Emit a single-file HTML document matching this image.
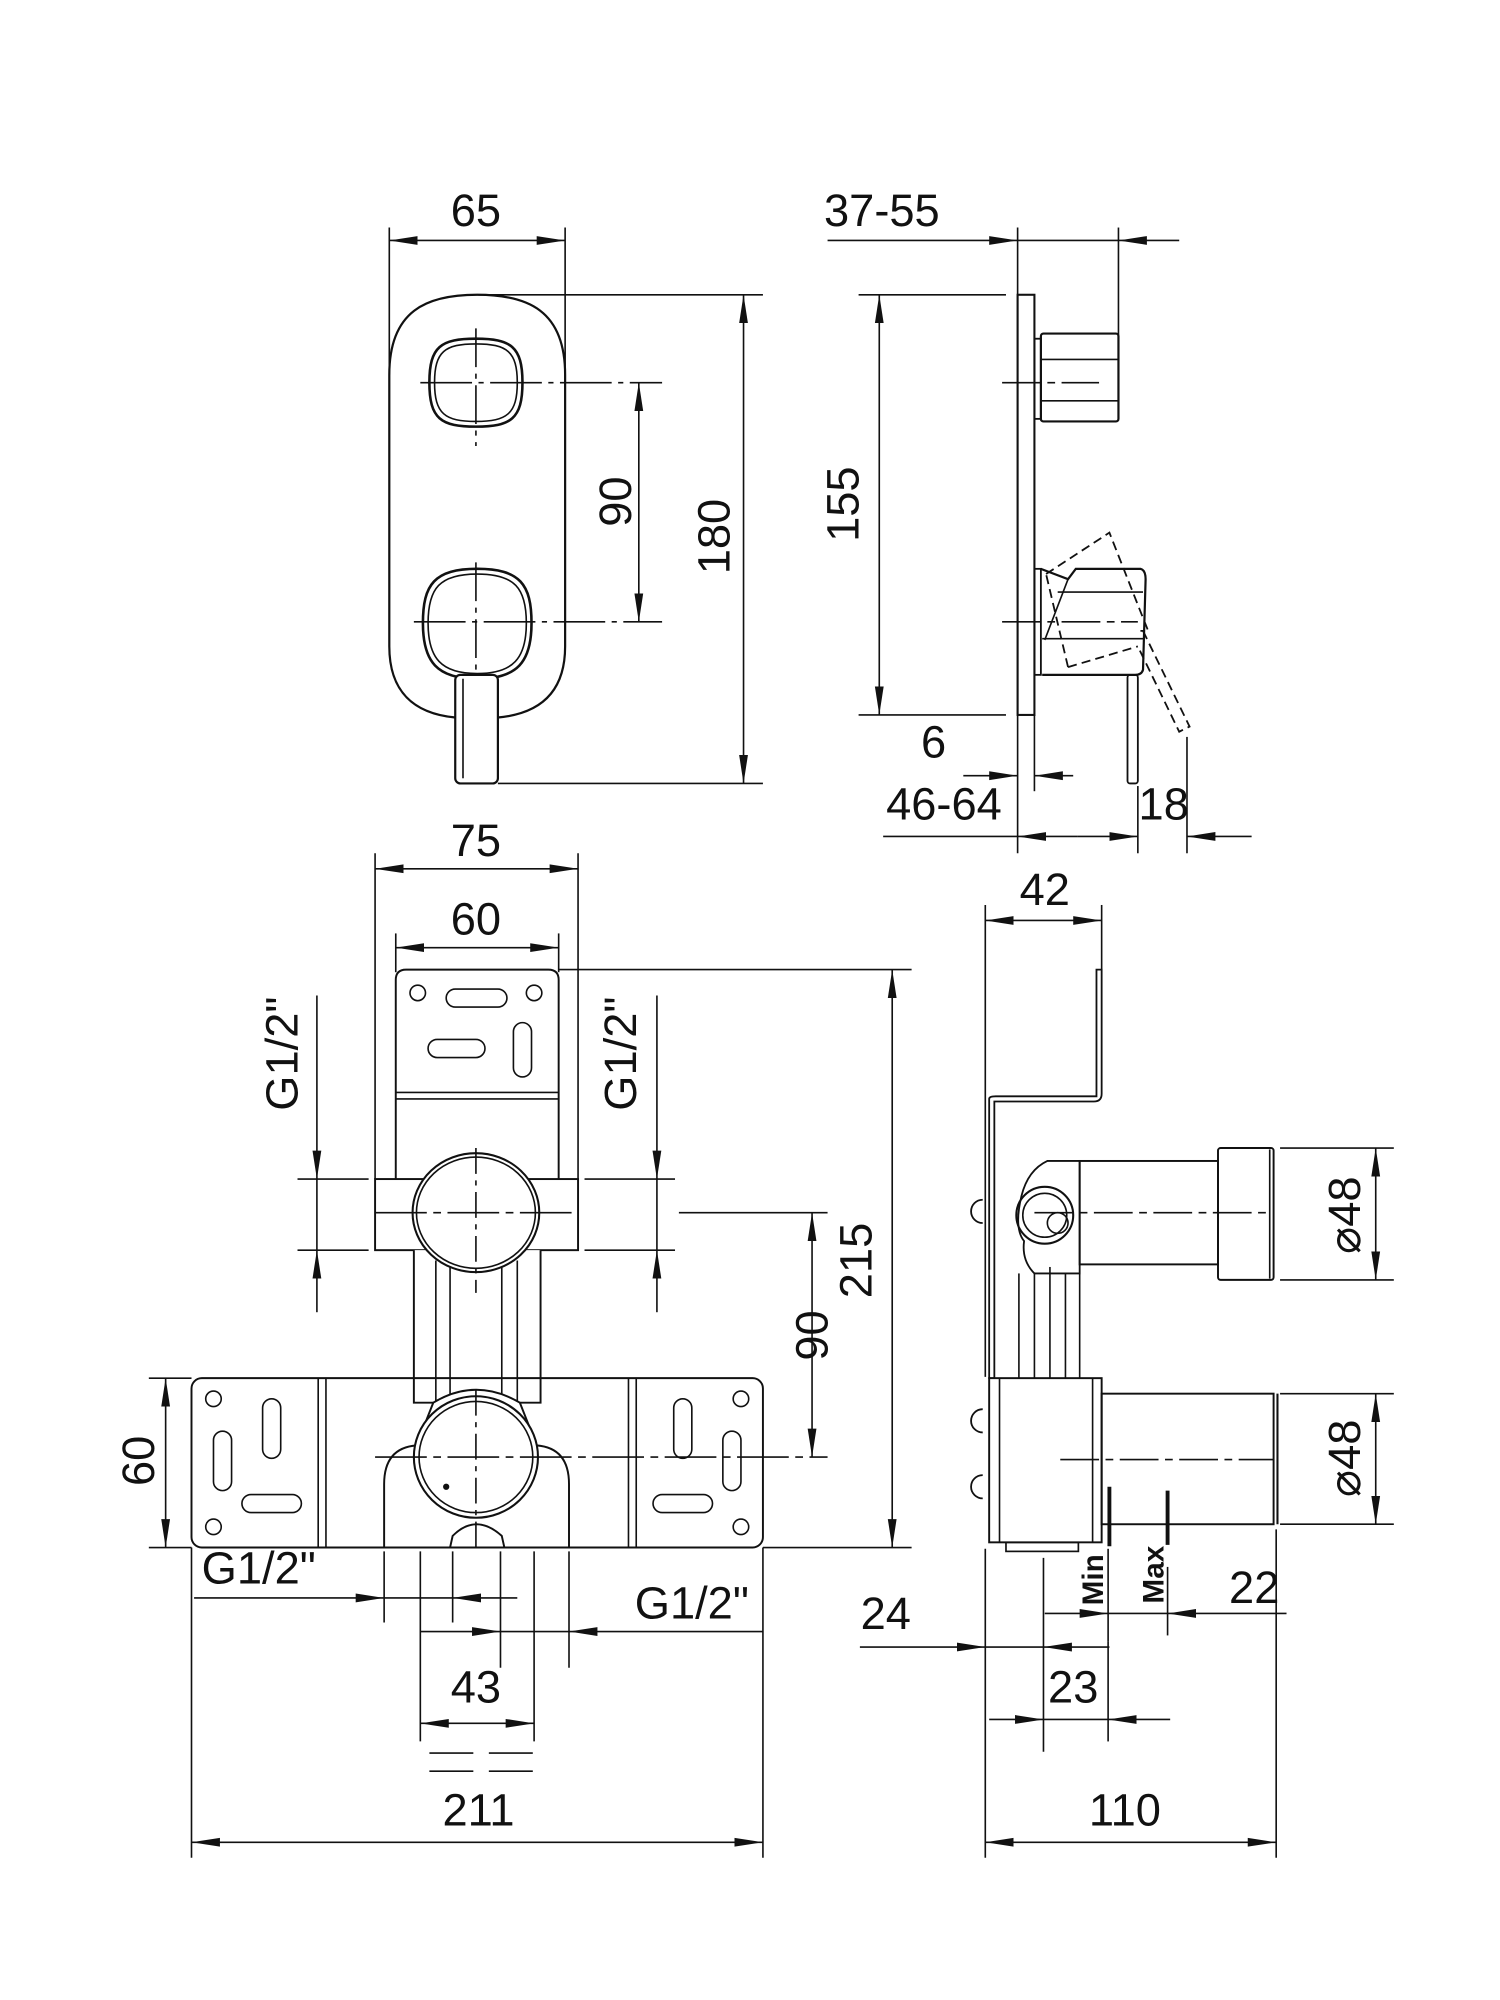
<!DOCTYPE html>
<html><head><meta charset="utf-8"><style>
html,body{margin:0;padding:0;background:#fff;}
svg{display:block;}
text{font-family:"Liberation Sans",Arial,sans-serif;fill:#111;}
</style></head><body>
<svg width="1500" height="2000" viewBox="0 0 1160 1547" xmlns="http://www.w3.org/2000/svg">
<defs>
<marker id="a" markerWidth="24" markerHeight="10" refX="22" refY="5" orient="auto-start-reverse" markerUnits="userSpaceOnUse"><path d="M0,1.6 L22,5 L0,8.4 Z" fill="#111"/></marker>
</defs>
<g fill="none" stroke="#111" stroke-width="1.25">
<!-- ========== TOP LEFT ========== -->
<line x1="301" y1="176" x2="301" y2="290"/>
<line x1="437" y1="176" x2="437" y2="300"/>
<line x1="301" y1="186" x2="437" y2="186" marker-start="url(#a)" marker-end="url(#a)"/>
<path stroke-width="1.7" d="M352,555 C320,552 301,535 301,500 L301,290 C301,240 330,228 369,228 C408,228 437,240 437,290 L437,500 C437,535 418,552 385,555"/>
<path stroke-width="2" d="M368,262 C395,262 404,268 404,296 C404,324 395,330 368,330 C341,330 332,324 332,296 C332,268 341,262 368,262 Z"/>
<path d="M368,266 C392,266 400,272 400,296 C400,320 392,326 368,326 C344,326 336,320 336,296 C336,272 344,266 368,266 Z"/>
<line x1="325" y1="296" x2="512" y2="296" stroke-dasharray="40,5,4,5"/>
<line x1="368" y1="254" x2="368" y2="345" stroke-dasharray="30,5,4,5"/>
<path stroke-width="2" d="M369,440 C402,440 411,452 411,482 C411,512 400,525 369,525 C338,525 327,512 327,482 C327,452 336,440 369,440 Z"/>
<path d="M369,444 C398,444 407,455 407,482 C407,509 397,521 369,521 C341,521 331,509 331,482 C331,455 340,444 369,444 Z"/>
<line x1="320" y1="481" x2="512" y2="481" stroke-dasharray="40,5,4,5"/>
<line x1="368" y1="435" x2="368" y2="540" stroke-dasharray="30,5,4,5"/>
<rect x="352" y="522" width="33" height="84" rx="4" stroke-width="1.7" fill="#fff"/>
<line x1="358" y1="525" x2="358" y2="602"/>
<line x1="494" y1="296" x2="494" y2="481" marker-start="url(#a)" marker-end="url(#a)"/>
<line x1="370" y1="228" x2="590" y2="228"/>
<line x1="385" y1="606" x2="590" y2="606"/>
<line x1="575" y1="228" x2="575" y2="606" marker-start="url(#a)" marker-end="url(#a)"/>

<!-- ========== TOP RIGHT ========== -->
<line x1="787" y1="176" x2="787" y2="660"/>
<line x1="865" y1="176" x2="865" y2="262"/>
<line x1="640" y1="186" x2="787" y2="186" marker-end="url(#a)"/>
<line x1="787" y1="186" x2="865" y2="186"/>
<line x1="912" y1="186" x2="865" y2="186" marker-end="url(#a)"/>
<rect x="787" y="228" width="13" height="325" stroke-width="1.6"/>
<line x1="664" y1="228" x2="778" y2="228"/>
<line x1="664" y1="553" x2="778" y2="553"/>
<line x1="680" y1="228" x2="680" y2="553" marker-start="url(#a)" marker-end="url(#a)"/>
<rect x="800" y="262" width="5" height="62" stroke-width="1.4"/>
<rect x="805" y="258" width="60" height="68" rx="2" stroke-width="1.7"/>
<line x1="805" y1="278" x2="865" y2="278"/>
<line x1="805" y1="310" x2="865" y2="310"/>
<line x1="775" y1="296" x2="850" y2="296" stroke-dasharray="30,5,6,5"/>
<rect x="800" y="440" width="5" height="82" stroke-width="1.4"/>
<path stroke-width="1.7" d="M805,440 L826,448 L832,440 L882,440 Q886,441 886,448 L884,518 Q883,522 878,522 L806,522"/>
<path d="M826,448 L808,495"/>
<line x1="818" y1="458" x2="884" y2="458"/>
<line x1="806" y1="494" x2="884" y2="494"/>
<line x1="775" y1="481" x2="880" y2="481" stroke-dasharray="30,5,6,5"/>
<rect x="872" y="522" width="8" height="84" rx="2" stroke-width="1.4"/>
<path stroke-dasharray="7,4" stroke-width="1.4" d="M809,444 L858,412 L884,478 L888,488 L882,488 M826,516 L809,444 M826,516 L880,500 M884,488 L920,562 L912,566 L880,500"/>
<line x1="800" y1="553" x2="800" y2="612"/>
<line x1="745" y1="600" x2="787" y2="600" marker-end="url(#a)"/>
<line x1="830" y1="600" x2="800" y2="600" marker-end="url(#a)"/>
<line x1="683" y1="647" x2="787" y2="647"/>
<line x1="833" y1="647" x2="787" y2="647" marker-end="url(#a)"/>
<line x1="833" y1="647" x2="880" y2="647" marker-end="url(#a)"/>
<line x1="880" y1="608" x2="880" y2="660"/>
<line x1="918" y1="570" x2="918" y2="660"/>
<line x1="968" y1="647" x2="918" y2="647" marker-end="url(#a)"/>

<!-- ========== BOTTOM LEFT ========== -->
<line x1="290" y1="660" x2="290" y2="912"/>
<line x1="447" y1="660" x2="447" y2="912"/>
<line x1="290" y1="672" x2="447" y2="672" marker-start="url(#a)" marker-end="url(#a)"/>
<line x1="306" y1="722" x2="306" y2="752"/>
<line x1="432" y1="722" x2="432" y2="752"/>
<line x1="306" y1="733" x2="432" y2="733" marker-start="url(#a)" marker-end="url(#a)"/>
<path stroke-width="1.5" d="M306,912 L306,758 Q306,750 314,750 L424,750 Q432,750 432,758 L432,912"/>
<circle cx="323" cy="768" r="6"/><circle cx="413" cy="768" r="6"/>
<rect x="345" y="765" width="47" height="14" rx="7"/>
<rect x="331" y="804" width="44" height="14" rx="7"/>
<rect x="397" y="791" width="14" height="42" rx="7"/>
<line x1="306" y1="845" x2="432" y2="845"/>
<line x1="306" y1="850" x2="432" y2="850"/>
<line x1="432" y1="750" x2="705" y2="750"/>
<rect x="290" y="912" width="157" height="55" stroke-width="1.5" fill="#fff"/>
<path stroke-width="1.5" fill="#fff" d="M320,967 L320,1085 L418,1085 L418,967"/>
<line x1="337" y1="975" x2="337" y2="1085"/><line x1="348" y1="980" x2="348" y2="1085"/>
<line x1="388" y1="980" x2="388" y2="1085"/><line x1="400" y1="975" x2="400" y2="1085"/>
<ellipse cx="368" cy="938" rx="49" ry="46" stroke-width="1.6" fill="#fff"/>
<ellipse cx="368" cy="938" rx="46" ry="43"/>
<line x1="368" y1="888" x2="368" y2="1000" stroke-dasharray="20,5,4,5"/>
<line x1="290" y1="938" x2="447" y2="938" stroke-dasharray="40,5,6,5"/>
<line x1="525" y1="938" x2="640" y2="938"/>
<line x1="230" y1="912" x2="285" y2="912"/>
<line x1="230" y1="967" x2="285" y2="967"/>
<line x1="245" y1="770" x2="245" y2="912" marker-end="url(#a)"/>
<line x1="245" y1="912" x2="245" y2="967"/>
<line x1="245" y1="1015" x2="245" y2="967" marker-end="url(#a)"/>
<line x1="452" y1="912" x2="522" y2="912"/>
<line x1="452" y1="967" x2="522" y2="967"/>
<line x1="508" y1="770" x2="508" y2="912" marker-end="url(#a)"/>
<line x1="508" y1="912" x2="508" y2="967"/>
<line x1="508" y1="1015" x2="508" y2="967" marker-end="url(#a)"/>
<rect x="148" y="1066" width="442" height="131" rx="8" stroke-width="1.5"/>
<line x1="246" y1="1066" x2="246" y2="1197"/><line x1="252" y1="1066" x2="252" y2="1197"/>
<line x1="486" y1="1066" x2="486" y2="1197"/><line x1="492" y1="1066" x2="492" y2="1197"/>
<circle cx="165" cy="1082" r="6"/><circle cx="165" cy="1181" r="6"/>
<rect x="165" y="1107" width="14" height="46" rx="7"/>
<rect x="203" y="1082" width="14" height="46" rx="7"/>
<rect x="187" y="1156" width="46" height="14" rx="7"/>
<circle cx="573" cy="1082" r="6"/><circle cx="573" cy="1181" r="6"/>
<rect x="559" y="1107" width="14" height="46" rx="7"/>
<rect x="521" y="1082" width="14" height="46" rx="7"/>
<rect x="505" y="1156" width="46" height="14" rx="7"/>
<path stroke-width="1.5" fill="#fff" d="M297,1197 L297,1148 Q297,1120 322,1118 L335,1085 Q368,1065 402,1085 L415,1118 Q440,1120 440,1148 L440,1197 L390,1197 L388,1188 Q368,1170 350,1188 L348,1197 Z"/>
<ellipse cx="368" cy="1127" rx="48" ry="47" stroke-width="1.6" fill="#fff"/>
<ellipse cx="368" cy="1127" rx="44" ry="43"/>
<circle cx="345" cy="1150" r="1.8" fill="#111"/>
<line x1="290" y1="1127" x2="640" y2="1127" stroke-dasharray="40,5,6,5"/>
<line x1="368" y1="1075" x2="368" y2="1197" stroke-dasharray="20,5,4,5"/>
<line x1="628" y1="938" x2="628" y2="1127" marker-start="url(#a)" marker-end="url(#a)"/>
<line x1="590" y1="1197" x2="705" y2="1197"/>
<line x1="690" y1="750" x2="690" y2="1197" marker-start="url(#a)" marker-end="url(#a)"/>
<line x1="115" y1="1066" x2="148" y2="1066"/>
<line x1="115" y1="1197" x2="148" y2="1197"/>
<line x1="128" y1="1066" x2="128" y2="1197" marker-start="url(#a)" marker-end="url(#a)"/>
<line x1="297" y1="1200" x2="297" y2="1255"/>
<line x1="325" y1="1200" x2="325" y2="1347"/>
<line x1="350" y1="1200" x2="350" y2="1255"/>
<line x1="387" y1="1200" x2="387" y2="1290"/>
<line x1="413" y1="1200" x2="413" y2="1347"/>
<line x1="440" y1="1200" x2="440" y2="1290"/>
<line x1="148" y1="1197" x2="148" y2="1437"/>
<line x1="590" y1="1197" x2="590" y2="1437"/>
<line x1="150" y1="1236" x2="297" y2="1236" marker-end="url(#a)"/>
<line x1="297" y1="1236" x2="350" y2="1236"/>
<line x1="400" y1="1236" x2="350" y2="1236" marker-end="url(#a)"/>
<line x1="325" y1="1262" x2="387" y2="1262" marker-end="url(#a)"/>
<line x1="387" y1="1262" x2="440" y2="1262"/>
<line x1="590" y1="1262" x2="440" y2="1262" marker-end="url(#a)"/>
<line x1="325" y1="1333" x2="413" y2="1333" marker-start="url(#a)" marker-end="url(#a)"/>
<line x1="332" y1="1356" x2="366" y2="1356"/><line x1="378" y1="1356" x2="412" y2="1356"/>
<line x1="332" y1="1370" x2="366" y2="1370"/><line x1="378" y1="1370" x2="412" y2="1370"/>
<line x1="148" y1="1425" x2="590" y2="1425" marker-start="url(#a)" marker-end="url(#a)"/>

<!-- ========== BOTTOM RIGHT ========== -->
<line x1="762" y1="700" x2="762" y2="1065"/>
<line x1="852" y1="700" x2="852" y2="750"/>
<line x1="762" y1="712" x2="852" y2="712" marker-start="url(#a)" marker-end="url(#a)"/>
<path stroke-width="1.4" d="M848,750 L852,750 L852,846 Q852,852 846,852 L769,852 L769,1066 L765,1066 L765,850 Q765,848 770,848 L848,848 Z"/>
<path stroke-width="1.4" d="M790,925 Q795,905 810,898 L835,898 L835,985 L800,985 Q790,975 792,960 Q784,950 790,925 Z" fill="#fff"/>
<circle cx="808" cy="940" r="22" stroke-width="1.6"/>
<circle cx="808" cy="940" r="17"/>
<circle cx="818" cy="946" r="8"/>
<rect x="835" y="898" width="107" height="80" stroke-width="1.5"/>
<rect x="942" y="888" width="43" height="102" rx="2" stroke-width="1.5"/>
<line x1="982" y1="889" x2="982" y2="989"/>
<line x1="800" y1="938" x2="980" y2="938" stroke-dasharray="30,5,6,5"/>
<path d="M760,928 A9,9 0 0,0 760,946" stroke-width="1.4"/>
<line x1="788" y1="985" x2="788" y2="1066"/><line x1="800" y1="985" x2="800" y2="1066"/>
<line x1="812" y1="980" x2="812" y2="1066"/><line x1="824" y1="985" x2="824" y2="1066"/>
<line x1="835" y1="985" x2="835" y2="1066"/>
<line x1="990" y1="888" x2="1078" y2="888"/>
<line x1="990" y1="990" x2="1078" y2="990"/>
<line x1="1064" y1="888" x2="1064" y2="990" marker-start="url(#a)" marker-end="url(#a)"/>
<rect x="765" y="1066" width="87" height="127" stroke-width="1.5" fill="#fff"/>
<line x1="773" y1="1066" x2="773" y2="1193"/><line x1="845" y1="1066" x2="845" y2="1193"/>
<rect x="778" y="1193" width="56" height="7" stroke-width="1.3"/>
<rect x="852" y="1078" width="133" height="101" stroke-width="1.5"/>
<line x1="988" y1="1078" x2="988" y2="1179" stroke-width="1.6"/>
<line x1="820" y1="1129" x2="985" y2="1129" stroke-dasharray="30,5,6,5"/>
<path d="M760,1090 A9,9 0 0,0 760,1108" stroke-width="1.4"/>
<path d="M760,1141 A9,9 0 0,0 760,1159" stroke-width="1.4"/>
<line x1="858" y1="1150" x2="858" y2="1196" stroke-width="3"/>
<line x1="903" y1="1153" x2="903" y2="1195" stroke-width="3"/>
<line x1="990" y1="1078" x2="1078" y2="1078"/>
<line x1="990" y1="1179" x2="1078" y2="1179"/>
<line x1="1064" y1="1078" x2="1064" y2="1179" marker-start="url(#a)" marker-end="url(#a)"/>
<line x1="857" y1="1198" x2="857" y2="1270"/>
<line x1="903" y1="1212" x2="903" y2="1265"/>
<line x1="987" y1="1183" x2="987" y2="1437"/>
<line x1="807" y1="1205" x2="807" y2="1355"/>
<line x1="762" y1="1198" x2="762" y2="1437"/>
<line x1="808" y1="1248" x2="857" y2="1248" marker-end="url(#a)"/>
<line x1="857" y1="1248" x2="903" y2="1248"/>
<line x1="995" y1="1248" x2="903" y2="1248" marker-end="url(#a)"/>
<line x1="665" y1="1274" x2="762" y2="1274" marker-end="url(#a)"/>
<line x1="762" y1="1274" x2="807" y2="1274"/>
<line x1="858" y1="1274" x2="807" y2="1274" marker-end="url(#a)"/>
<line x1="765" y1="1330" x2="807" y2="1330" marker-end="url(#a)"/>
<line x1="807" y1="1330" x2="857" y2="1330"/>
<line x1="905" y1="1330" x2="857" y2="1330" marker-end="url(#a)"/>
<line x1="857" y1="1270" x2="857" y2="1347"/>
<line x1="762" y1="1425" x2="987" y2="1425" marker-start="url(#a)" marker-end="url(#a)"/>
</g>

<g font-size="35" text-anchor="middle">
<text x="368" y="175">65</text>
<text x="682" y="175">37-55</text>
<text x="722" y="586">6</text>
<text x="730" y="634">46-64</text>
<text x="900" y="634">18</text>
<text x="368" y="662">75</text>
<text x="368" y="723">60</text>
<text x="808" y="700">42</text>
<text x="200" y="1225">G1/2"</text>
<text x="535" y="1252">G1/2"</text>
<text x="368" y="1317">43</text>
<text x="370" y="1412">211</text>
<text x="685" y="1260">24</text>
<text x="830" y="1317">23</text>
<text x="970" y="1240">22</text>
<text x="870" y="1412">110</text>
<text transform="translate(488,388) rotate(-90)">90</text>
<text transform="translate(564,415) rotate(-90)">180</text>
<text transform="translate(664,390) rotate(-90)">155</text>
<text transform="translate(230,815) rotate(-90)">G1/2"</text>
<text transform="translate(492,815) rotate(-90)">G1/2"</text>
<text transform="translate(640,1033) rotate(-90)">90</text>
<text transform="translate(674,975) rotate(-90)">215</text>
<text transform="translate(119,1130) rotate(-90)">60</text>
<text transform="translate(1052,940) rotate(-90)">⌀48</text>
<text transform="translate(1052,1128) rotate(-90)">⌀48</text>
</g>
<g font-size="23" font-weight="bold" text-anchor="middle">
<text transform="translate(853,1222) rotate(-90)">Min</text>
<text transform="translate(900,1218) rotate(-90)">Max</text>
</g>
</svg>
</body></html>
